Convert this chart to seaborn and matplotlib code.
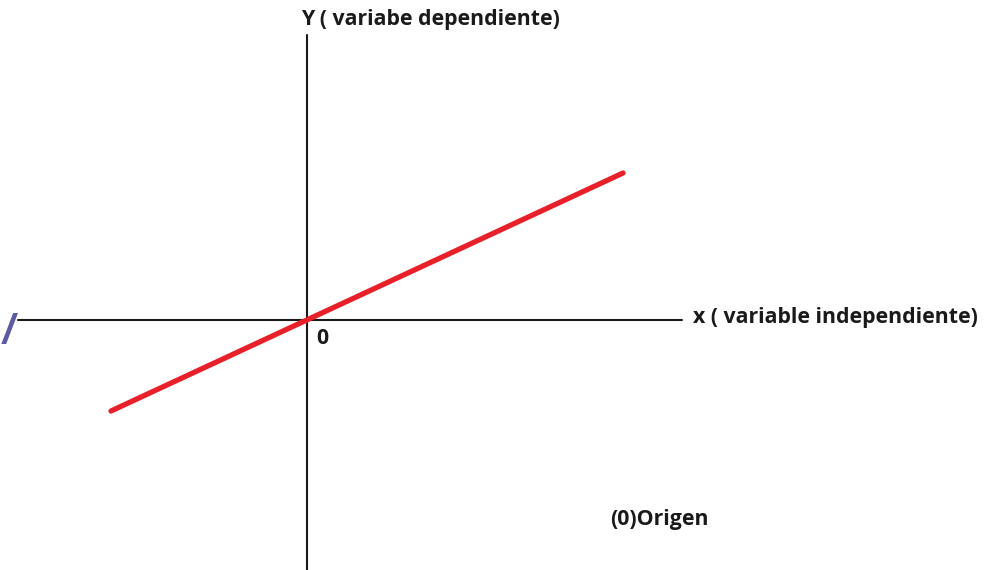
import matplotlib
matplotlib.use('Agg')
import matplotlib.pyplot as plt
import seaborn as sns
import pandas as pd

# coordenadas en el plano (origen en el cruce de los ejes)
recta_x = [-196, 316]
recta_y = [-91, 147]

eje_x = [-289, 375]
eje_y = [-250, 285]

titulo_y = 'Y ( variabe dependiente)'
titulo_x = 'x ( variable independiente)'
etiqueta_origen = '0'
nota = '(0)Origen'

sns.set_theme(style='white')
plt.rcParams['font.family'] = ['Open Sans', 'DejaVu Sans']

fig = plt.figure(figsize=(9.93, 5.70), dpi=100)
ax = fig.add_axes([0, 0, 1, 1])
ax.set_xlim(-307, 686)
ax.set_ylim(-250, 320)
ax.axis('off')

# ejes cartesianos
ax.plot(eje_x, [0, 0], color='#1a1a1a', lw=1.5)
ax.plot([0, 0], eje_y, color='#1a1a1a', lw=1.5)

df = pd.DataFrame({'x': recta_x, 'y': recta_y})
sns.lineplot(data=df, x='x', y='y', color='#e8202a', lw=3.8, ax=ax,
             solid_capstyle='round')

fs = 15.3
ax.text(123, 300, titulo_y, ha='center', va='center', fontsize=fs,
        fontweight='bold', color='#1a1a1a')
ax.text(386, 2, titulo_x, ha='left', va='center', fontsize=fs,
        fontweight='bold', color='#1a1a1a')
ax.text(15, -18, etiqueta_origen, ha='center', va='center', fontsize=fs,
        fontweight='bold', color='#1a1a1a')
ax.text(352, -199, nota, ha='center', va='center', fontsize=fs,
        fontweight='bold', color='#1a1a1a')
ax.text(-306, -12, '/', ha='left', va='center', fontsize=32,
        fontweight='semibold', color='#5b5ba3')

ax.set_xlabel('')
ax.set_ylabel('')

plt.savefig('out.png', dpi=100)
